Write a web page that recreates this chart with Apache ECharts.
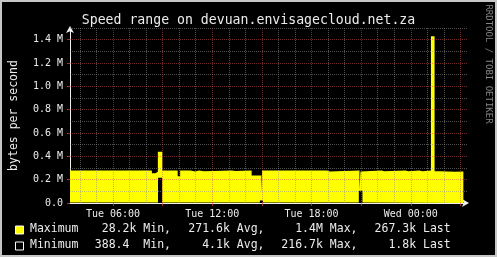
<!DOCTYPE html>
<html><head><meta charset="utf-8">
<script src="https://cdn.jsdelivr.net/npm/echarts@6/dist/echarts.min.js"></script>
<style>html,body{margin:0;padding:0;background:#000}#c{width:497px;height:257px}</style>
</head><body><div id="c"></div><script>
// ---------- data ----------
const titleText = 'Speed range on devuan.envisagecloud.net.za';
const yAxisTitle = 'bytes per second';
const watermark = 'RRDTOOL / TOBI OETIKER';

// hours since Tue 00:00 (step values: each value holds until the next time)
const maxTimes = [3.40, 4.24, 4.36, 5.23, 5.35, 6.76, 6.88, 8.35, 8.56, 8.71, 8.98, 9.91, 10.06, 10.69, 10.96, 11.20, 11.50, 13.18, 13.40, 14.38, 14.96, 15.01, 18.94, 19.09, 20.90, 20.96, 21.07, 22.24, 22.39, 23.68, 23.86, 24.52, 24.70, 25.22, 25.44, 25.78, 26.68, 27.18];
const maxValues = [278000, 268000, 278000, 270000, 278000, 266000, 278000, 255000, 268000, 440000, 278000, 230000, 278000, 270000, 278000, 272000, 278000, 274000, 278000, 235000, 85000, 278000, 270000, 278000, 110000, 270000, 278000, 272000, 278000, 272000, 278000, 272000, 278000, 1430000, 272000, 268000, 270000, 267300];

const minTimes = [3.40, 8.72, 8.97, 14.88, 15.06, 20.86, 21.08, 27.18];
const minValues = [4000, 216700, 4000, 22000, 4000, 105000, 4000, 1800];

const xLabelValues = [6, 12, 18, 24];
const xLabelTexts = ['Tue 06:00', 'Tue 12:00', 'Tue 18:00', 'Wed 00:00'];
const yLabelValues = [0, 200000, 400000, 600000, 800000, 1000000, 1200000, 1400000];
const yLabelTexts = ['0.0', '0.2 M', '0.4 M', '0.6 M', '0.8 M', '1.0 M', '1.2 M', '1.4 M'];

const xMinorGrid = [4, 5, 7, 8, 10, 11, 13, 14, 16, 17, 19, 20, 22, 23, 25, 26];
const xMajorGrid = [6, 9, 12, 15, 18, 21, 24, 27];
const yMinorGrid = [100000, 300000, 500000, 700000, 900000, 1100000, 1300000, 1500000];
const yMajorGrid = [200000, 400000, 600000, 800000, 1000000, 1200000, 1400000];

const legendNames = ['Maximum', 'Minimum'];
const legendMin = ['28.2k Min,', '388.4  Min,'];
const legendAvg = ['271.6k Avg,', '4.1k Avg,'];
const legendMax = ['1.4M Max,', '216.7k Max,'];
const legendLast = ['267.3k Last', '1.8k Last'];

// ---------- style ----------
const FONT = '"DejaVu Sans Mono", monospace';
const TXT = '#ececec';
const YELLOW = '#ffff00';
const minorStyle = { color: 'rgba(143,143,143,0.55)', width: 1, type: [1, 1] };
const majorStyle = { color: 'rgba(222,79,79,0.5)', width: 1, type: [1, 1] };

const chart = echarts.init(document.getElementById('c'), null, { renderer: 'canvas' });

const gridMarks = [].concat(
  xMinorGrid.map(v => ({ xAxis: v, lineStyle: minorStyle })),
  yMinorGrid.map(v => ({ yAxis: v, lineStyle: minorStyle })),
  xMajorGrid.map(v => ({ xAxis: v, lineStyle: majorStyle })),
  yMajorGrid.map(v => ({ yAxis: v, lineStyle: majorStyle }))
);

const legendRowY = [229.5, 245.5];
const legendCols = [171, 264.5, 357.5, 450.7];
const graphics = [];
[[0, 0, 497, 2], [0, 0, 2, 257], [0, 255, 497, 2], [495, 0, 2, 257]].forEach(r => {
  graphics.push({ type: 'rect', shape: { x: r[0], y: r[1], width: r[2], height: r[3] }, style: { fill: '#c6c6c6' }, silent: true });
});
graphics.push({ type: 'text', x: 488, y: 64, rotation: -Math.PI / 2, silent: true,
  style: { text: watermark, font: '9px ' + FONT, fill: '#858585', align: 'center', verticalAlign: 'middle' } });
legendNames.forEach((name, i) => {
  const y = legendRowY[i];
  graphics.push({ type: 'rect', silent: true, shape: { x: 15.5, y: y - 3.5, width: 8, height: 8 },
    style: { fill: i === 0 ? YELLOW : '#000', stroke: '#ffffff', lineWidth: 1 } });
  graphics.push({ type: 'text', x: 30, y: y, silent: true,
    style: { text: name, font: '11.5px ' + FONT, fill: TXT, align: 'left', verticalAlign: 'middle' } });
  [legendMin[i], legendAvg[i], legendMax[i], legendLast[i]].forEach((t, j) => {
    graphics.push({ type: 'text', x: legendCols[j], y: y, silent: true,
      style: { text: t, font: '11.5px ' + FONT, fill: TXT, align: 'right', verticalAlign: 'middle' } });
  });
});

const option = {
  backgroundColor: '#000000',
  animation: false,
  title: { text: titleText, left: 'center', top: 9,
    textStyle: { fontFamily: FONT, fontSize: 13.2, fontWeight: 'normal', color: TXT } },
  grid: { left: 67, top: 28, width: 400, height: 175, containLabel: false },
  xAxis: {
    type: 'value', min: 3.4, max: 27.4,
    axisLine: { show: true, lineStyle: { color: '#f0f0f0', width: 1 }, symbol: ['none', 'arrow'], symbolSize: [6, 7], symbolOffset: [0, 2] },
    axisTick: { show: true, customValues: xMajorGrid, length: 3, lineStyle: { color: 'rgba(222,79,79,0.7)' } },
    axisLabel: { show: true, customValues: xLabelValues, margin: 6, color: TXT, fontFamily: FONT, fontSize: 10,
      formatter: v => { const k = xLabelValues.indexOf(v); return k >= 0 ? xLabelTexts[k] : ''; } },
    splitLine: { show: false }
  },
  yAxis: {
    type: 'value', min: 0, max: 1500000,
    name: yAxisTitle, nameLocation: 'middle', nameRotate: 90, nameGap: 50,
    nameTextStyle: { fontFamily: FONT, fontSize: 11.5, color: TXT },
    axisLine: { show: true, onZero: false, lineStyle: { color: '#f0f0f0', width: 1 }, symbol: ['none', 'arrow'], symbolSize: [6, 7], symbolOffset: [0, 2] },
    axisTick: { show: true, customValues: yLabelValues, length: 3, lineStyle: { color: 'rgba(222,79,79,0.7)' } },
    axisLabel: { show: true, customValues: yLabelValues, margin: 7, color: TXT, fontFamily: FONT, fontSize: 10,
      formatter: v => { const k = yLabelValues.indexOf(v); return k >= 0 ? yLabelTexts[k] : ''; } },
    splitLine: { show: false }
  },
  series: [
    { name: 'Maximum', type: 'line', step: 'end', symbol: 'none', z: 2,
      data: maxTimes.map((t, i) => [t, maxValues[i]]),
      lineStyle: { width: 0, color: YELLOW }, areaStyle: { color: YELLOW, opacity: 1 } },
    { name: 'Minimum', type: 'line', step: 'end', symbol: 'none', z: 3,
      data: minTimes.map((t, i) => [t, minValues[i]]),
      lineStyle: { width: 0, color: '#000' }, areaStyle: { color: '#000000', opacity: 1 } },
    { name: 'grid', type: 'line', data: [], z: 5, silent: true,
      markLine: { silent: true, symbol: ['none', 'none'], label: { show: false }, animation: false, data: gridMarks } }
  ],
  graphic: graphics
};
chart.setOption(option);
</script></body></html>
